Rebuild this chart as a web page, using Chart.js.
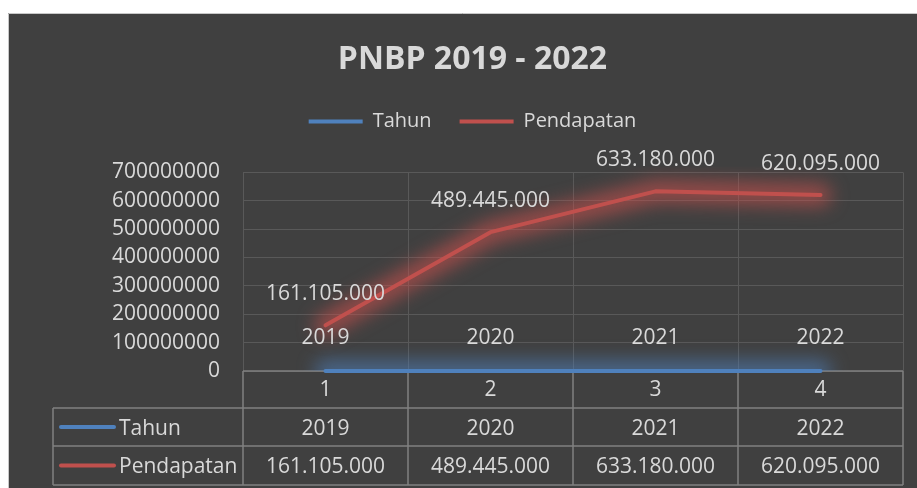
<!DOCTYPE html>
<html>
<head>
<meta charset="utf-8">
<script src="https://cdn.jsdelivr.net/npm/chart.js@4/dist/chart.umd.min.js"></script>
<style>
  html, body { margin: 0; padding: 0; background: #ffffff; }
  canvas { display: block; }
</style>
</head>
<body>
<canvas id="c" width="917" height="488"></canvas>
<script>
// ---- data ----
const categories = ['1', '2', '3', '4'];
const tahun = [2019, 2020, 2021, 2022];
const pendapatan = [161105000, 489445000, 633180000, 620095000];
const seriesNames = ['Tahun', 'Pendapatan'];
const yMin = 0, yMax = 700000000, yStep = 100000000;

const BG = '#404040';
const TEXT = '#d9d9d9';
const BLUE = '#4F81BD';
const RED = '#C0504D';
const FONT = "'Open Sans', 'DejaVu Sans', sans-serif";
const FS = 21;

function fmtDots(v) {
  return String(v).replace(/\B(?=(\d{3})+(?!\d))/g, '.');
}

const bgPlugin = {
  id: 'bg',
  beforeInit(chart) {
    const lg = chart.legend;
    if (lg && !lg._patched) {
      const orig = lg.fit.bind(lg);
      lg.fit = function () { orig(); this.height += 31; };
      lg._patched = true;
    }
  },
  beforeDraw(chart) {
    const ctx = chart.ctx;
    ctx.save();
    ctx.fillStyle = BG;
    ctx.fillRect(8, 13, chart.width - 8, chart.height - 13);
    ctx.strokeStyle = '#c8c8c8';
    ctx.lineWidth = 1;
    ctx.beginPath();
    ctx.moveTo(8.5, chart.height);
    ctx.lineTo(8.5, 13.5);
    ctx.lineTo(chart.width, 13.5);
    ctx.stroke();
    ctx.restore();
  }
};

const tablePlugin = {
  id: 'dataTable',
  beforeDatasetsDraw(chart) {
    const ctx = chart.ctx;
    const xs = chart.scales.x;
    const area = chart.chartArea;
    const n = categories.length;
    const centers = categories.map((_, i) => xs.getPixelForValue(i));
    const half = (centers[1] - centers[0]) / 2;
    const bounds = [centers[0] - half];
    centers.forEach(c => bounds.push(c + half));
    const rowTop = [area.bottom, area.bottom + 37, area.bottom + 75, area.bottom + 114];
    const leftX = 53;
    ctx.save();
    ctx.strokeStyle = '#808080';
    ctx.lineWidth = 1.5;
    ctx.beginPath();
    ctx.moveTo(bounds[0], rowTop[0]); ctx.lineTo(bounds[n], rowTop[0]);
    for (let r = 1; r < 4; r++) { ctx.moveTo(leftX, rowTop[r]); ctx.lineTo(bounds[n], rowTop[r]); }
    bounds.forEach(b => { ctx.moveTo(b, rowTop[0]); ctx.lineTo(b, rowTop[3]); });
    ctx.moveTo(leftX, rowTop[1]); ctx.lineTo(leftX, rowTop[3]);
    ctx.stroke();

    ctx.font = FS + 'px ' + FONT;
    ctx.fillStyle = TEXT;
    ctx.textBaseline = 'middle';
    const rows = [tahun.map(String), pendapatan.map(fmtDots)];
    const colors = [BLUE, RED];
    rows.forEach((vals, r) => {
      const cy = (rowTop[r + 1] + rowTop[r + 2]) / 2;
      ctx.textAlign = 'center';
      vals.forEach((t, i) => ctx.fillText(t, centers[i], cy + 2));
      ctx.strokeStyle = colors[r];
      ctx.lineWidth = 4;
      ctx.lineCap = 'round';
      ctx.beginPath();
      ctx.moveTo(61, cy); ctx.lineTo(114, cy);
      ctx.stroke();
      ctx.textAlign = 'left';
      ctx.fillText(seriesNames[r], 119, cy + 2);
    });
    ctx.restore();
  }
};

const glowPlugin = {
  id: 'glow',
  beforeDatasetDraw(chart, args) {
    const ctx = chart.ctx;
    const area = chart.chartArea;
    const pts = args.meta.data;
    if (!pts.length) return;
    ctx.save();
    ctx.beginPath();
    ctx.rect(area.left, area.top - 6, area.right - area.left, area.bottom - area.top + 6);
    ctx.clip();
    ctx.filter = 'blur(9px)';
    ctx.strokeStyle = args.index === 0 ? 'rgba(79,129,189,0.6)' : 'rgba(200,80,77,0.65)';
    ctx.lineWidth = 22;
    ctx.lineJoin = 'round';
    ctx.lineCap = 'round';
    ctx.beginPath();
    pts.forEach((p, i) => i ? ctx.lineTo(p.x, p.y) : ctx.moveTo(p.x, p.y));
    ctx.stroke();
    ctx.restore();
  }
};

const labelPlugin = {
  id: 'pointLabels',
  afterDatasetsDraw(chart) {
    const ctx = chart.ctx;
    ctx.save();
    ctx.font = FS + 'px ' + FONT;
    ctx.fillStyle = TEXT;
    ctx.textAlign = 'center';
    ctx.textBaseline = 'middle';
    chart.data.datasets.forEach((ds, di) => {
      const meta = chart.getDatasetMeta(di);
      meta.data.forEach((pt, i) => {
        const v = ds.data[i];
        const txt = di === 0 ? String(v) : fmtDots(v);
        ctx.fillText(txt, pt.x, pt.y - (di === 0 ? 33 : 31));
      });
    });
    ctx.restore();
  }
};

new Chart(document.getElementById('c'), {
  type: 'line',
  data: {
    labels: categories,
    datasets: [
      { label: seriesNames[0], data: tahun, borderColor: BLUE, backgroundColor: BLUE,
        borderWidth: 4, pointRadius: 0, borderCapStyle: 'round', tension: 0, clip: false },
      { label: seriesNames[1], data: pendapatan, borderColor: RED, backgroundColor: RED,
        borderWidth: 4, pointRadius: 0, borderCapStyle: 'round', borderJoinStyle: 'round', tension: 0, clip: false }
    ]
  },
  options: {
    responsive: false,
    devicePixelRatio: 1,
    animation: false,
    layout: { padding: { top: 13, left: 42, right: 14, bottom: 0 } },
    plugins: {
      title: {
        display: true,
        text: 'PNBP 2019 - 2022',
        color: TEXT,
        font: { family: FONT, size: 32, weight: 'bold' },
        padding: { top: 28, bottom: 4 }
      },
      legend: {
        display: true,
        labels: {
          color: TEXT,
          font: { family: FONT, size: 20 },
          boxWidth: 54,
          boxHeight: 4,
          padding: 28,
          generateLabels(chart) {
            return chart.data.datasets.map((ds, i) => ({
              text: ds.label, fillStyle: ds.borderColor, strokeStyle: ds.borderColor,
              lineWidth: 0, hidden: false, datasetIndex: i, fontColor: TEXT
            }));
          }
        }
      },
      tooltip: { enabled: false }
    },
    scales: {
      x: {
        type: 'category',
        offset: true,
        grid: { display: true, offset: true, color: '#595959', lineWidth: 1, drawTicks: false },
        border: { display: false },
        ticks: { color: TEXT, font: { family: FONT, size: FS }, padding: 6, maxRotation: 0, autoSkip: false },
        afterFit(scale) { scale.height = 117; }
      },
      y: {
        min: yMin, max: yMax,
        grid: { color: '#595959', lineWidth: 1, drawTicks: false },
        border: { display: false },
        ticks: { stepSize: yStep, color: TEXT, font: { family: FONT, size: FS }, padding: 23,
          autoSkip: false, callback: v => String(v) },
        afterFit(scale) { scale.width = 201; }
      }
    }
  },
  plugins: [bgPlugin, tablePlugin, glowPlugin, labelPlugin]
});
</script>
</body>
</html>
